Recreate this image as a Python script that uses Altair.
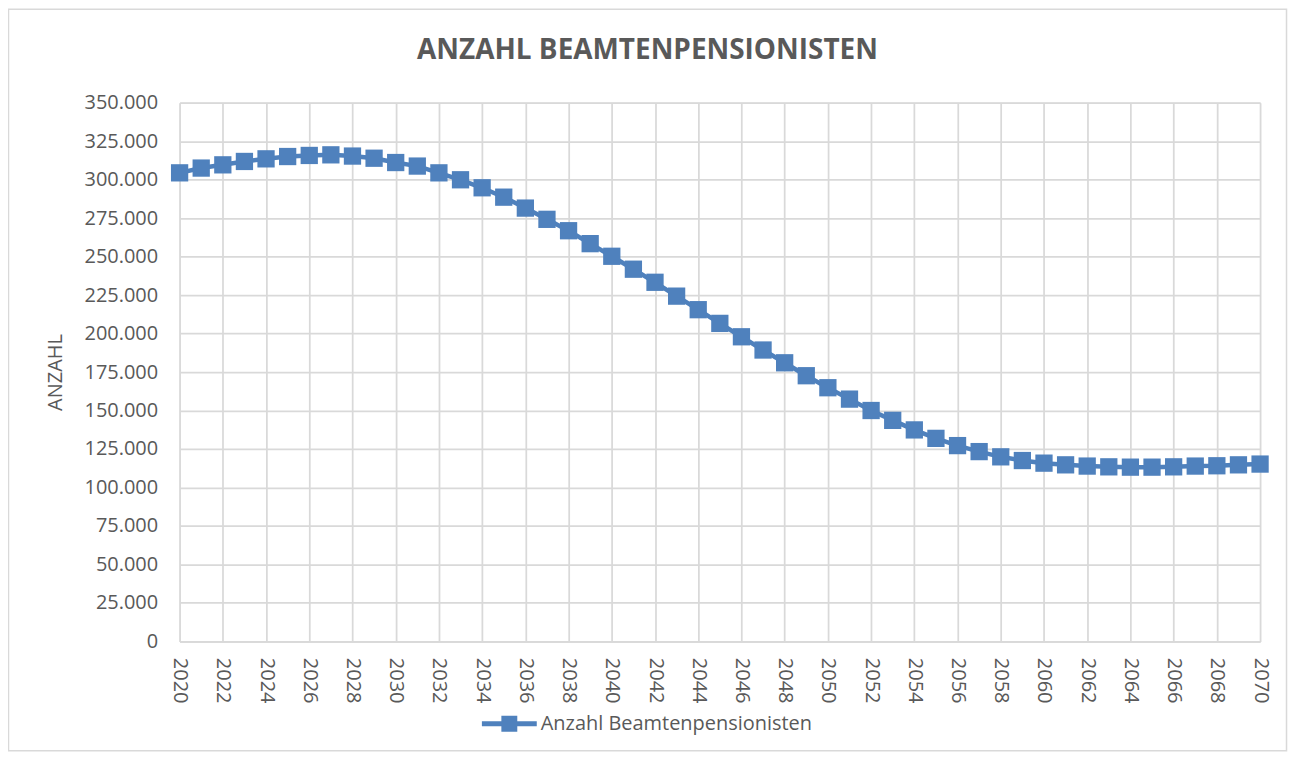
import altair as alt
import pandas as pd

years = list(range(2020, 2071))
values = [304400, 307500, 309600, 311800, 313500, 315000, 315700, 316100, 315300, 313900,
          311100, 308800, 304400, 299900, 294700, 288600, 281500, 274200, 266800, 258400,
          250200, 241800, 233300, 224300, 215500, 206600, 197900, 189300, 181000, 172600,
          164800, 157400, 150000, 143600, 137400, 131900, 127200, 123300, 119900, 117500,
          115800, 114700, 113900, 113400, 113200, 113200, 113400, 113900, 114100, 114700,
          115200]
series_name = "Anzahl Beamtenpensionisten"
chart_title = "ANZAHL BEAMTENPENSIONISTEN"
x_ticks = list(range(2020, 2071, 2))
y_ticks = list(range(0, 350001, 25000))

df = pd.DataFrame({"Jahr": years, "Anzahl": values, "Serie": [series_name] * len(years)})

BLUE = "#4F81BD"
GRID = "#D9D9D9"
TXT = "#595959"
FONT = "Open Sans"

W, H = 1083, 540

x = alt.X("Jahr:Q",
          scale=alt.Scale(domain=[2020, 2070], nice=False, zero=False),
          axis=alt.Axis(values=x_ticks, format="d", labelAngle=90, labelPadding=16,
                        ticks=False, domain=True, domainColor=GRID, domainWidth=1.75,
                        grid=True, gridColor=GRID, gridWidth=1.75, title=None,
                        labelFont=FONT, labelFontSize=20, labelColor=TXT,
                        labelOverlap=False, labelFlush=False))
y = alt.Y("Anzahl:Q",
          scale=alt.Scale(domain=[0, 350000], nice=False),
          axis=alt.Axis(values=y_ticks, labelExpr="replace(format(datum.value, ','), ',', '.')",
                        ticks=False, domain=False, grid=True, gridColor=GRID, gridWidth=1.75,
                        labelPadding=22, labelFont=FONT, labelFontSize=20, labelColor=TXT,
                        labelOverlap=False, labelFlush=False,
                        title="ANZAHL", titleFont=FONT, titleFontSize=20, titleFontWeight="normal",
                        titleColor=TXT, titleX=-124, titleY=270, titleAlign="center",
                        titleBaseline="middle", titleAngle=270))

legend_symbol = "M-1,-0.09 H1 V0.09 H-1 Z M-0.29,-0.29 H0.29 V0.29 H-0.29 Z"

color = alt.Color("Serie:N",
                  scale=alt.Scale(domain=[series_name], range=[BLUE]),
                  legend=alt.Legend(title=None, orient="none", legendX=303, legendY=595,
                                    symbolType=legend_symbol, symbolSize=3025,
                                    symbolStrokeWidth=0, symbolFillColor=BLUE, symbolOpacity=1,
                                    labelFont=FONT, labelFontSize=20, labelColor=TXT,
                                    labelOffset=4, labelLimit=500, padding=0))

base = alt.Chart(df)
line = base.mark_line(strokeWidth=4.5).encode(x=x, y=y, color=color)
pts = base.mark_point(shape="square", filled=True, size=300, opacity=1).encode(x=x, y=y, color=color)

one = pd.DataFrame({"k": [0]})
frame = alt.Chart(one).mark_rect(
    fill=None, stroke=GRID, strokeWidth=1.5
).encode(x=alt.value(-171.5), x2=alt.value(1109.5), y=alt.value(-93.5), y2=alt.value(649.5))

title_mark = alt.Chart(one).mark_text(
    font=FONT, fontSize=28, fontWeight="bold", color=TXT, align="center", baseline="alphabetic"
).encode(x=alt.value(469), y=alt.value(-44), text=alt.value(chart_title))

chart = alt.layer(frame, line, pts, title_mark).properties(
    width=W, height=H,
    padding={"left": 172, "top": 94, "right": 30, "bottom": 115},
    autosize=alt.AutoSizeParams(type="none"),
).configure_view(stroke=None).configure(background="white")

chart.save("out.html", embed_options={"renderer": "svg", "actions": False})
